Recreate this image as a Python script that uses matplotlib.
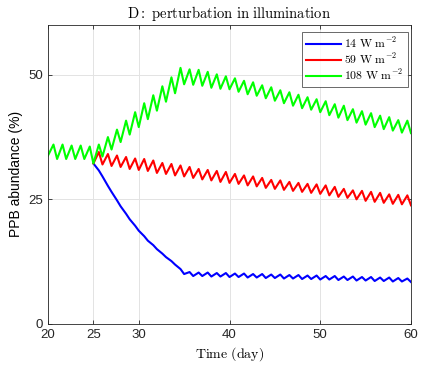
import numpy as np
import matplotlib
matplotlib.use('Agg')
import matplotlib.pyplot as plt

plt.rcParams['mathtext.fontset'] = 'cm'
plt.rcParams['font.family'] = ['Liberation Sans', 'DejaVu Sans']

# daily minima (integer days) and maxima (day + 0.6)
green_days = np.arange(20, 61)
green_low = [33.8, 33.1, 33.1, 33.1, 33.1, 32.2, 33.6, 35.0, 36.5, 38.0, 39.5,
             41.1, 42.8, 44.6, 46.3, 48.1, 48.0, 47.8, 47.4, 47.2, 47.1, 46.6,
             46.1, 45.8, 45.3, 44.8, 44.3, 43.8, 43.3, 43.0, 42.5, 41.9, 41.4,
             40.9, 40.4, 40.0, 39.5, 39.1, 38.8, 38.4, 38.3]
green_high = [36.0, 36.0, 35.8, 35.8, 35.6, 36.0, 37.5, 39.0, 40.8, 42.5, 44.3,
              45.9, 47.7, 49.5, 51.4, 51.1, 51.0, 50.6, 50.1, 49.7, 49.3, 48.8,
              48.5, 47.9, 47.5, 46.9, 46.5, 46.0, 45.5, 45.1, 44.7, 44.1, 43.8,
              43.1, 42.7, 42.3, 41.8, 41.5, 40.9, 40.8]

pert_days = np.arange(25, 61)
red_low = [32.2, 32.0, 31.7, 31.5, 31.1, 30.9, 30.7, 30.3, 30.1, 29.8, 29.6,
           29.3, 29.0, 28.8, 28.5, 28.3, 28.1, 27.8, 27.6, 27.3, 27.1, 26.9,
           26.7, 26.5, 26.3, 26.1, 25.8, 25.5, 25.3, 25.0, 24.7, 24.5, 24.3,
           24.1, 24.0, 23.8]
red_high = [34.5, 34.1, 33.8, 33.5, 33.2, 33.1, 32.8, 32.3, 32.1, 31.8, 31.5,
            31.1, 30.9, 30.7, 30.5, 30.1, 29.8, 29.6, 29.3, 28.9, 28.8, 28.5,
            28.3, 28.1, 28.0, 27.8, 27.5, 27.1, 26.8, 26.7, 26.5, 26.3, 26.0,
            25.9, 25.8]

blue_low = [32.2, 29.6, 26.5, 23.6, 21.0, 18.7, 16.7, 15.0, 13.4, 11.9, 10.0,
            9.6, 9.6, 9.5, 9.5, 9.4, 9.4, 9.3, 9.3, 9.2, 9.2, 9.1, 9.1, 9.0,
            9.0, 8.9, 8.9, 8.8, 8.8, 8.7, 8.7, 8.6, 8.6, 8.5, 8.5, 8.4]
blue_high = [30.8, 27.7, 24.8, 22.1, 19.7, 17.6, 15.8, 14.1, 12.6, 11.0, 10.4,
             10.3, 10.3, 10.2, 10.2, 10.1, 10.1, 10.0, 10.0, 9.9, 9.9, 9.8,
             9.8, 9.7, 9.7, 9.6, 9.6, 9.5, 9.5, 9.4, 9.4, 9.3, 9.3, 9.2, 9.1]

labels = [r'$\mathrm{14\ W\ m^{-2}}$', r'$\mathrm{59\ W\ m^{-2}}$',
          r'$\mathrm{108\ W\ m^{-2}}$']


def zigzag(days, low, high):
    t, v = [], []
    for i in range(len(high)):
        t += [days[i], days[i] + 0.6]
        v += [low[i], high[i]]
    t.append(days[-1])
    v.append(low[-1])
    return np.array(t), np.array(v)


fig = plt.figure(figsize=(4.25, 3.68), dpi=100)
ax = fig.add_axes([0.113, 0.12, 0.854, 0.812])

tb, vb = zigzag(pert_days, blue_low, blue_high)
tr, vr = zigzag(pert_days, red_low, red_high)
tg, vg = zigzag(green_days, green_low, green_high)
ax.plot(tb, vb, color=(0, 0, 1), lw=1.5, label=labels[0])
ax.plot(tr, vr, color=(1, 0, 0), lw=1.5, label=labels[1])
ax.plot(tg, vg, color=(0, 1, 0), lw=1.5, label=labels[2])

ax.set_xlim(20, 60)
ax.set_ylim(0, 60)
ax.set_xticks([20, 25, 30, 40, 50, 60])
ax.set_yticks([0, 25, 50])
ax.grid(True, color='#e3e3e3', lw=0.7)
ax.set_axisbelow(True)
for s in ax.spines.values():
    s.set_color('#262626')
    s.set_linewidth(0.6)
ax.tick_params(direction='in', length=3, width=0.6, colors='#262626',
               labelsize=9.5, top=True, right=True)

ax.set_title(r'$\mathrm{D{:}\ perturbation\ in\ illumination}$', fontsize=10.5,
             pad=5)
ax.set_xlabel(r'$\mathrm{Time\ (day)}$', fontsize=10, labelpad=3)
ax.set_ylabel('PPB abundance (%)', fontsize=10, labelpad=4)

leg = ax.legend(loc='upper right', fontsize=8.5, fancybox=False,
                borderaxespad=0.6, handlelength=2.9, labelspacing=0.08,
                borderpad=0.35, handletextpad=0.3, bbox_to_anchor=(1.01, 1.0))
leg.get_frame().set_edgecolor('#262626')
leg.get_frame().set_linewidth(0.6)

fig.savefig('out.png', dpi=100)
